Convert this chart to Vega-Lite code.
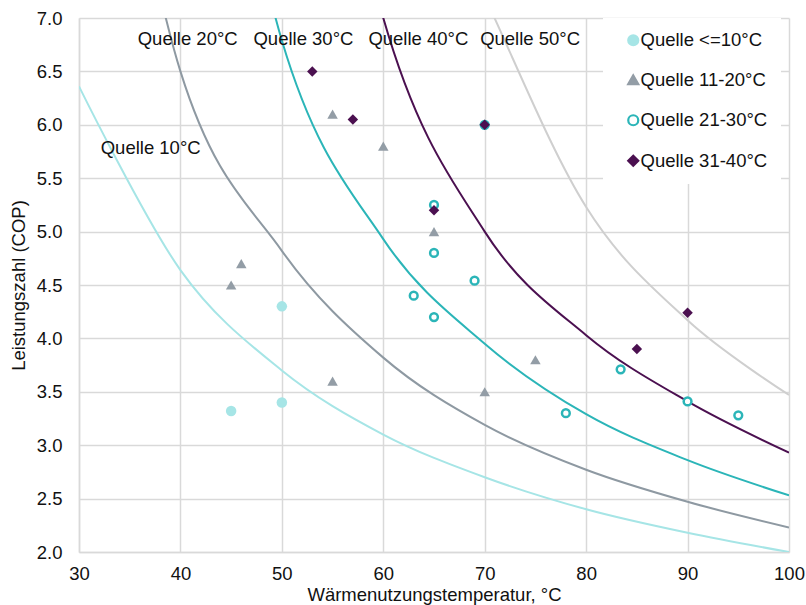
{
  "$schema": "https://vega.github.io/schema/vega-lite/v6.json",
  "width": 710,
  "height": 534,
  "autosize": {"type": "none"},
  "padding": {"left": 79, "top": 18, "right": 17, "bottom": 53},
  "background": "white",
  "config": {
    "font": "Liberation Sans",
    "view": {"stroke": null},
    "axis": {
      "grid": true,
      "gridColor": "#D9D9D9",
      "gridWidth": 1.5,
      "domainColor": "#D9D9D9",
      "domainWidth": 1.5,
      "ticks": false,
      "labelFlush": false,
      "labelFontSize": 18.5,
      "labelColor": "#111111",
      "labelFont": "Liberation Sans",
      "titleFont": "Liberation Sans",
      "titleFontSize": 18.5,
      "titleFontWeight": "normal",
      "titleColor": "#111111"
    },
    "legend": {
      "orient": "none",
      "legendX": 524,
      "legendY": 0,
      "fillColor": "white",
      "padding": 13,
      "labelFontSize": 18.5,
      "labelFont": "Liberation Sans",
      "labelColor": "#111111",
      "labelExpr": "datum.label + '  '",
      "rowPadding": 20.5,
      "symbolOffset": 8,
      "labelOffset": -2,
      "symbolSize": 100,
      "symbolStrokeWidth": 2.2
    }
  },
  "datasets": {
    "curves": [
      {"curve": "Quelle 10°C", "t": 30, "cop": 6.36},
      {"curve": "Quelle 10°C", "t": 40, "cop": 4.64},
      {"curve": "Quelle 10°C", "t": 50, "cop": 3.7},
      {"curve": "Quelle 10°C", "t": 60, "cop": 3.1},
      {"curve": "Quelle 10°C", "t": 70, "cop": 2.7},
      {"curve": "Quelle 10°C", "t": 80, "cop": 2.4},
      {"curve": "Quelle 10°C", "t": 90, "cop": 2.18},
      {"curve": "Quelle 10°C", "t": 100, "cop": 2.0},
      {"curve": "Quelle 20°C", "t": 30, "cop": 10.9},
      {"curve": "Quelle 20°C", "t": 40, "cop": 6.5},
      {"curve": "Quelle 20°C", "t": 50, "cop": 4.82},
      {"curve": "Quelle 20°C", "t": 60, "cop": 3.82},
      {"curve": "Quelle 20°C", "t": 70, "cop": 3.19},
      {"curve": "Quelle 20°C", "t": 80, "cop": 2.77},
      {"curve": "Quelle 20°C", "t": 90, "cop": 2.47},
      {"curve": "Quelle 20°C", "t": 100, "cop": 2.23},
      {"curve": "Quelle 30°C", "t": 40, "cop": 11.3},
      {"curve": "Quelle 30°C", "t": 50, "cop": 6.79},
      {"curve": "Quelle 30°C", "t": 60, "cop": 4.93},
      {"curve": "Quelle 30°C", "t": 70, "cop": 3.95},
      {"curve": "Quelle 30°C", "t": 80, "cop": 3.29},
      {"curve": "Quelle 30°C", "t": 90, "cop": 2.86},
      {"curve": "Quelle 30°C", "t": 100, "cop": 2.53},
      {"curve": "Quelle 40°C", "t": 50, "cop": 11.6},
      {"curve": "Quelle 40°C", "t": 60, "cop": 7.0},
      {"curve": "Quelle 40°C", "t": 70, "cop": 5.0},
      {"curve": "Quelle 40°C", "t": 80, "cop": 4.03},
      {"curve": "Quelle 40°C", "t": 90, "cop": 3.41},
      {"curve": "Quelle 40°C", "t": 100, "cop": 2.93},
      {"curve": "Quelle 50°C", "t": 60, "cop": 9.3},
      {"curve": "Quelle 50°C", "t": 70, "cop": 7.2},
      {"curve": "Quelle 50°C", "t": 80, "cop": 5.23},
      {"curve": "Quelle 50°C", "t": 90, "cop": 4.17},
      {"curve": "Quelle 50°C", "t": 100, "cop": 3.47}
    ],
    "labels": [
      {"label": "Quelle 10°C", "t": 32.14, "cop": 5.724},
      {"label": "Quelle 20°C", "t": 35.79, "cop": 6.75},
      {"label": "Quelle 30°C", "t": 47.2, "cop": 6.75},
      {"label": "Quelle 40°C", "t": 58.53, "cop": 6.75},
      {"label": "Quelle 50°C", "t": 69.55, "cop": 6.75}
    ],
    "points": [
      {"series": "Quelle <=10°C", "t": 45, "cop": 3.32},
      {"series": "Quelle <=10°C", "t": 50, "cop": 4.3},
      {"series": "Quelle <=10°C", "t": 50, "cop": 3.4},
      {"series": "Quelle 11-20°C", "t": 45, "cop": 4.5},
      {"series": "Quelle 11-20°C", "t": 46, "cop": 4.7},
      {"series": "Quelle 11-20°C", "t": 55, "cop": 6.1},
      {"series": "Quelle 11-20°C", "t": 55, "cop": 3.6},
      {"series": "Quelle 11-20°C", "t": 60, "cop": 5.8},
      {"series": "Quelle 11-20°C", "t": 65, "cop": 5.0},
      {"series": "Quelle 11-20°C", "t": 70, "cop": 3.5},
      {"series": "Quelle 11-20°C", "t": 75, "cop": 3.8},
      {"series": "Quelle 21-30°C", "t": 65, "cop": 5.25},
      {"series": "Quelle 21-30°C", "t": 65, "cop": 4.8},
      {"series": "Quelle 21-30°C", "t": 63, "cop": 4.4},
      {"series": "Quelle 21-30°C", "t": 65, "cop": 4.2},
      {"series": "Quelle 21-30°C", "t": 69, "cop": 4.54},
      {"series": "Quelle 21-30°C", "t": 70, "cop": 6.0},
      {"series": "Quelle 21-30°C", "t": 78, "cop": 3.3},
      {"series": "Quelle 21-30°C", "t": 83.4, "cop": 3.71},
      {"series": "Quelle 21-30°C", "t": 90, "cop": 3.41},
      {"series": "Quelle 21-30°C", "t": 95, "cop": 3.28},
      {"series": "Quelle 31-40°C", "t": 53, "cop": 6.5},
      {"series": "Quelle 31-40°C", "t": 57, "cop": 6.05},
      {"series": "Quelle 31-40°C", "t": 65, "cop": 5.2},
      {"series": "Quelle 31-40°C", "t": 70, "cop": 6.0},
      {"series": "Quelle 31-40°C", "t": 85, "cop": 3.9},
      {"series": "Quelle 31-40°C", "t": 90, "cop": 4.24}
    ]
  },
  "layer": [
    {
      "data": {"name": "curves"},
      "mark": {"type": "line", "strokeWidth": 2, "interpolate": "cardinal", "tension": 0.001, "clip": true},
      "encoding": {
        "x": {
          "field": "t", "type": "quantitative",
          "scale": {"domain": [30, 100], "nice": false, "zero": false},
          "axis": {
            "values": [30, 40, 50, 60, 70, 80, 90, 100],
            "labelPadding": 12,
            "title": "Wärmenutzungstemperatur, °C",
            "titlePadding": 3
          }
        },
        "y": {
          "field": "cop", "type": "quantitative",
          "scale": {"domain": [2, 7], "nice": false, "zero": false},
          "axis": {
            "values": [2, 2.5, 3, 3.5, 4, 4.5, 5, 5.5, 6, 6.5, 7],
            "format": ".1f",
            "labelPadding": 17,
            "title": "Leistungszahl (COP)",
            "titlePadding": 8
          }
        },
        "color": {
          "field": "curve", "type": "nominal",
          "scale": {
            "domain": ["Quelle 10°C", "Quelle 20°C", "Quelle 30°C", "Quelle 40°C", "Quelle 50°C"],
            "range": ["#A6E5E6", "#8E99A2", "#2BB5B8", "#4B1050", "#CFCFCF"]
          },
          "legend": null
        }
      }
    },
    {
      "data": {"name": "labels"},
      "mark": {"type": "text", "align": "left", "baseline": "alphabetic", "fontSize": 18.5, "color": "#111111", "font": "Liberation Sans"},
      "encoding": {
        "x": {"field": "t", "type": "quantitative"},
        "y": {"field": "cop", "type": "quantitative"},
        "text": {"field": "label"}
      }
    },
    {
      "data": {"name": "points"},
      "mark": {"type": "point", "opacity": 1, "fillOpacity": 1, "strokeOpacity": 1},
      "encoding": {
        "x": {"field": "t", "type": "quantitative"},
        "y": {"field": "cop", "type": "quantitative"},
        "shape": {
          "field": "series", "type": "nominal",
          "scale": {
            "domain": ["Quelle <=10°C", "Quelle 11-20°C", "Quelle 21-30°C", "Quelle 31-40°C"],
            "range": ["circle", "triangle-up", "circle", "diamond"]
          },
          "legend": {"title": null}
        },
        "fill": {
          "field": "series", "type": "nominal",
          "scale": {
            "domain": ["Quelle <=10°C", "Quelle 11-20°C", "Quelle 21-30°C", "Quelle 31-40°C"],
            "range": ["#A6E5E6", "#939DA6", "#FFFFFF", "#4B1050"]
          },
          "legend": {"title": null}
        },
        "stroke": {
          "field": "series", "type": "nominal",
          "scale": {
            "domain": ["Quelle <=10°C", "Quelle 11-20°C", "Quelle 21-30°C", "Quelle 31-40°C"],
            "range": ["#A6E5E6", "#939DA6", "#2BB5B8", "#4B1050"]
          },
          "legend": {"title": null}
        },
        "strokeWidth": {
          "condition": {"test": "datum.series === 'Quelle 21-30°C'", "value": 2.5},
          "value": 0
        },
        "size": {
          "condition": {"test": "datum.series === 'Quelle 21-30°C'", "value": 60},
          "value": 110
        }
      }
    }
  ]
}
